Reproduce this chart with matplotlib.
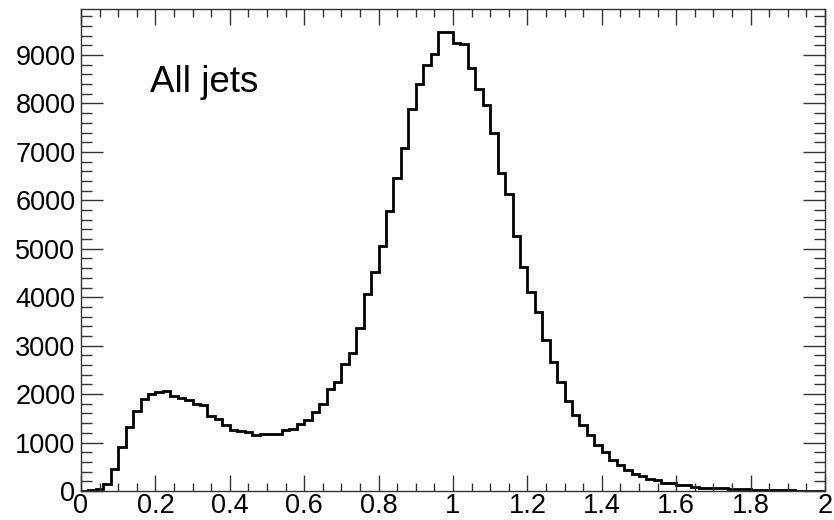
import numpy as np
import matplotlib
matplotlib.use("Agg")
from matplotlib import pyplot as plt
from matplotlib.ticker import MultipleLocator

plt.rcParams['font.family'] = ['Liberation Sans', 'DejaVu Sans']

# histogram: 100 bins between 0 and 2
bin_edges = np.linspace(0.0, 2.0, 101)
counts = [
    0, 10, 35, 144, 452, 918, 1315, 1650, 1897, 2000,
    2048, 2068, 1959, 1918, 1884, 1801, 1774, 1548, 1491, 1354,
    1251, 1237, 1210, 1155, 1175, 1180, 1182, 1251, 1285, 1388,
    1475, 1629, 1800, 2110, 2240, 2619, 2855, 3365, 4069, 4515,
    5065, 5773, 6460, 7086, 7883, 8399, 8797, 9024, 9478, 9478,
    9258, 9223, 8742, 8296, 7966, 7381, 6557, 6131, 5271, 4619,
    4103, 3691, 3107, 2660, 2240, 1856, 1560, 1354, 1148, 942,
    804, 646, 543, 440, 357, 302, 245, 235, 170, 160,
    120, 115, 75, 60, 55, 65, 60, 50, 45, 40,
    20, 15, 15, 12, 10, 10, 8, 8, 6, 5,
]
label_text = "All jets"

fig = plt.figure(figsize=(8.34, 5.2), dpi=100)
ax = fig.add_axes([0.0971, 0.0558, 0.8921, 0.9269])

ax.stairs(counts, bin_edges, color='black', linewidth=2)

ax.set_xlim(0, 2)
ax.set_ylim(0, 9950)

ax.xaxis.set_major_locator(MultipleLocator(0.2))
ax.xaxis.set_minor_locator(MultipleLocator(0.05))
ax.yaxis.set_major_locator(MultipleLocator(1000))
ax.yaxis.set_minor_locator(MultipleLocator(200))
ax.set_xticks(np.arange(0, 2.01, 0.2))
ax.set_xticklabels(["0", "0.2", "0.4", "0.6", "0.8", "1", "1.2", "1.4", "1.6", "1.8", "2"])

ax.tick_params(axis='both', which='both', direction='in', top=True, right=True,
               colors='#333333', labelcolor='black', labelsize=19.5, width=1)
ax.tick_params(axis='x', which='major', length=11.5, pad=1.5)
ax.tick_params(axis='x', which='minor', length=5.8)
ax.tick_params(axis='y', which='major', length=15.6, pad=4)
ax.tick_params(axis='y', which='minor', length=7.8)

for sp in ax.spines.values():
    sp.set_color('#333333')
    sp.set_linewidth(1)

ax.text(0.185, 8245, label_text, fontsize=26.5, ha='left', va='baseline')

fig.savefig("out.png", dpi=100)
